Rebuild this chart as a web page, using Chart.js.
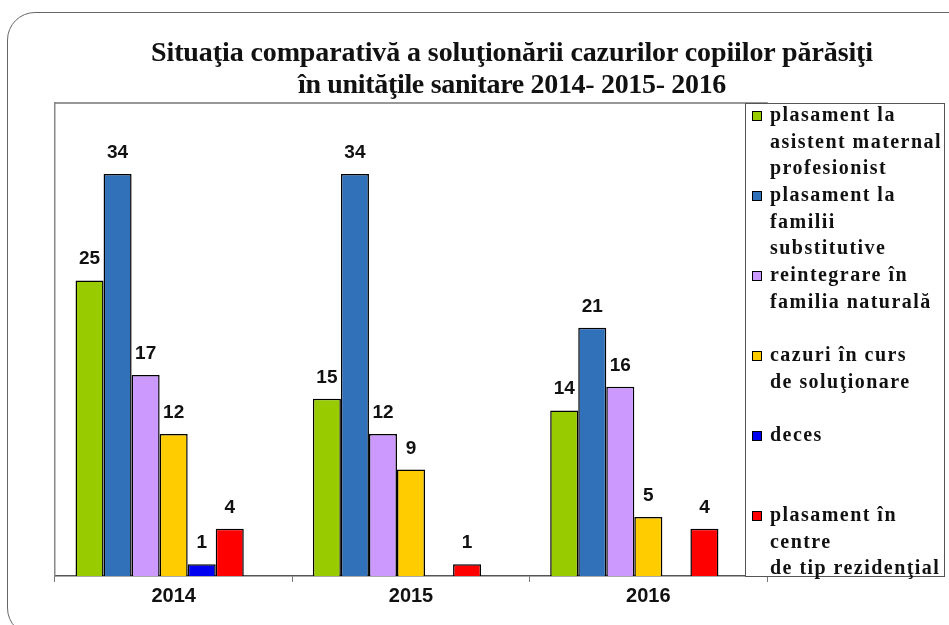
<!DOCTYPE html>
<html lang="ro">
<head>
<meta charset="UTF-8">
<title>Situaţia comparativă</title>
<script src="https://cdn.jsdelivr.net/npm/chart.js"></script>
<style>
  body { margin: 0; background: #fff; }
  #wrap { position: relative; width: 949px; height: 625px; overflow: hidden; }
  #frame {
    position: absolute; left: 7px; top: 12px; width: 980px; height: 624px;
    border: 1.5px solid #666; border-radius: 28px; box-sizing: border-box;
  }
  canvas { position: absolute; left: 0; top: 0; }
  #title {
    position: absolute; left: 0; top: 36px; width: 1024px; text-align: center;
    font-family: "Liberation Serif", "Times New Roman", serif; font-weight: bold;
    font-size: 28px; line-height: 32px; color: #111;
  }
  #title span { white-space: nowrap; }
  #legend {
    position: absolute; left: 745px; top: 103px; width: 200px; height: 474px;
    border: 1px solid #555; background: #fff; box-sizing: border-box;
  }
  .sw {
    position: absolute; left: 6px; width: 10px; height: 10px;
    border: 1px solid #000; box-sizing: border-box;
  }
  .txt {
    position: absolute; left: 24px; white-space: nowrap;
    font-family: "Liberation Serif", "Times New Roman", serif; font-weight: bold;
    font-size: 20px; line-height: 26.6px; color: #111;
  }
</style>
</head>
<body>
<div id="wrap">
  <div id="frame"></div>
  <canvas id="barChart" width="949" height="625"></canvas>
  <div id="title">
    <span id="t1">Situaţia comparativă a soluţionării cazurilor copiilor părăsiţi</span><br>
    <span id="t2">în unităţile sanitare 2014- 2015- 2016</span>
  </div>
  <div id="legend"></div>
</div>

<script>
// data
const years = ['2014', '2015', '2016'];
const asistentMaternal = [25, 15, 14];
const familiiSubstitutive = [34, 34, 21];
const reintegrare = [17, 12, 16];
const cazuriInCurs = [12, 9, 5];
const deces = [1, null, null];
const centreRezidentiale = [4, 1, 4];

const seriesNames = [
  ['plasament la', 'asistent maternal', 'profesionist'],
  ['plasament la', 'familii', 'substitutive'],
  ['reintegrare în', 'familia naturală'],
  ['cazuri în curs', 'de soluţionare'],
  ['deces'],
  ['plasament în', 'centre', 'de tip rezidenţial']
];
const seriesColors = ['#99CC00', '#3071B9', '#CC99FF', '#FFCC00', '#0000F0', '#FF0000'];
const seriesValues = [asistentMaternal, familiiSubstitutive, reintegrare, cazuriInCurs, deces, centreRezidentiale];

// stretch a line of text to the width it has in the picture
function fitWidth(el, target) {
  const w = el.getBoundingClientRect().width;
  const n = el.textContent.length;
  el.style.letterSpacing = ((target - w) / n) + 'px';
}
fitWidth(document.getElementById('t1'), 722);
fitWidth(document.getElementById('t2'), 428);

// legend (html, multi-line)
const legend = document.getElementById('legend');
seriesNames.forEach((lines, i) => {
  const top = i * 80;
  const sw = document.createElement('div');
  sw.className = 'sw';
  sw.style.top = (top + 7) + 'px';
  sw.style.background = seriesColors[i];
  legend.appendChild(sw);
  const txt = document.createElement('div');
  txt.className = 'txt';
  txt.style.top = (top - 3) + 'px';
  txt.innerHTML = lines.join('<br>');
  legend.appendChild(txt);
});
const probe = document.createElement('span');
probe.className = 'txt';
probe.textContent = 'asistent maternal';
legend.appendChild(probe);
const spacing = (172 - probe.getBoundingClientRect().width) / probe.textContent.length;
legend.removeChild(probe);
document.querySelectorAll('#legend .txt').forEach(t => t.style.letterSpacing = spacing + 'px');

// value labels above bars
const valueLabels = {
  id: 'valueLabels',
  afterDatasetsDraw(chart) {
    const ctx = chart.ctx;
    ctx.save();
    ctx.font = 'bold 19px "Liberation Sans", Arial, sans-serif';
    ctx.fillStyle = '#111';
    ctx.textAlign = 'center';
    ctx.textBaseline = 'alphabetic';
    chart.data.datasets.forEach((ds, i) => {
      const meta = chart.getDatasetMeta(i);
      meta.data.forEach((bar, j) => {
        const v = ds.data[j];
        if (v === null || v === undefined) return;
        ctx.fillText(v, bar.x, bar.y - 16);
      });
    });
    ctx.restore();
  }
};

// top and right lines of the plot box
const plotBox = {
  id: 'plotBox',
  beforeDatasetsDraw(chart) {
    const a = chart.chartArea;
    const ctx = chart.ctx;
    ctx.save();
    ctx.strokeStyle = '#777';
    ctx.lineWidth = 1.5;
    ctx.beginPath();
    ctx.moveTo(a.left, a.top);
    ctx.lineTo(a.right, a.top);
    ctx.lineTo(a.right, a.bottom);
    ctx.stroke();
    ctx.restore();
  }
};

const datasets = seriesValues.map((vals, i) => ({
  label: seriesNames[i].join(' '),
  data: vals,
  backgroundColor: seriesColors[i],
  borderColor: '#000',
  borderWidth: 1.5
}));
// empty slot that Excel left at the end of each group
datasets.push({ label: '', data: [null, null, null], backgroundColor: 'transparent', borderWidth: 0 });

new Chart(document.getElementById('barChart'), {
  type: 'bar',
  data: { labels: years, datasets: datasets },
  options: {
    responsive: false,
    animation: false,
    categoryPercentage: 0.827,
    barPercentage: 1,
    layout: { padding: { left: 55, top: 103, right: 182, bottom: 0 } },
    plugins: {
      legend: { display: false },
      title: { display: false },
      tooltip: { enabled: false }
    },
    scales: {
      x: {
        afterFit(s) { s.height = 49; },
        grid: { display: true, drawOnChartArea: false, drawTicks: true, tickLength: 6, color: '#777', offset: true },
        border: { display: true, color: '#555', width: 1.5 },
        ticks: {
          padding: 2,
          color: '#111',
          font: { family: '"Liberation Sans", Arial, sans-serif', size: 20, weight: 'bold' }
        }
      },
      y: {
        min: 0,
        max: 40,
        afterFit(s) { s.width = 0; },
        grid: { display: false },
        border: { display: true, color: '#888', width: 1.5 },
        ticks: { display: false }
      }
    }
  },
  plugins: [valueLabels, plotBox]
});
</script>
</body>
</html>
